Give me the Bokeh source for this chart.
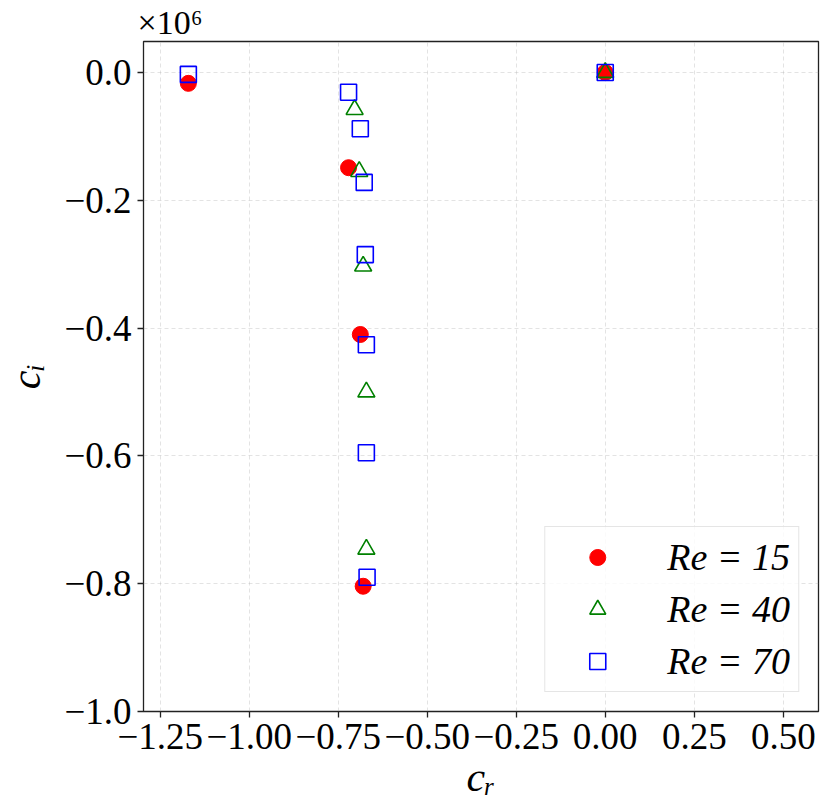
from bokeh.plotting import figure
from bokeh.models import Legend, LegendItem, Title, FixedTicker, CustomJSTickFormatter, Range1d
from bokeh.embed import file_html
from bokeh.resources import INLINE

# values in units of 1e6 for c_i
re15_cr = [-1.171, -0.721, -0.688, -0.680, 0.0]
re15_ci = [-0.017, -0.149, -0.410, -0.804, 0.0]
re40_cr = [-0.704, -0.691, -0.680, -0.671, -0.671, 0.0]
re40_ci = [-0.058, -0.155, -0.303, -0.500, -0.746, 0.0]
re70_cr = [-1.171, -0.721, -0.688, -0.677, -0.674, -0.671, -0.671, -0.669, 0.0]
re70_ci = [-0.003, -0.031, -0.088, -0.172, -0.285, -0.426, -0.595, -0.790, 0.0]
x_ticks = [-1.25, -1.0, -0.75, -0.5, -0.25, 0.0, 0.25, 0.5]
y_ticks = [-1.0, -0.8, -0.6, -0.4, -0.2, 0.0]
labels = ["Re = 15", "Re = 40", "Re = 70"]

FONT = "Liberation Serif"
FS = "37px"

p = figure(width=821, height=802, output_backend="svg", toolbar_location=None,
           x_range=Range1d(-1.297, 0.599), y_range=Range1d(-1.0, 0.0485),
           min_border_left=131, min_border_right=3, min_border_top=41, min_border_bottom=84)
p.outline_line_color = "#222222"
p.outline_line_width = 1.3
p.background_fill_color = "white"
p.border_fill_color = "white"

p.add_layout(Title(text="\u00d710\u2076", text_font=FONT, text_font_size="34px",
                   text_font_style="normal", text_color="black", align="left",
                   offset=-6, standoff=2), "above")

for ax in (p.xaxis, p.yaxis):
    ax.major_label_text_font = FONT
    ax.major_label_text_font_size = FS
    ax.major_label_text_color = "black"
    ax.axis_label_text_font = FONT
    ax.axis_label_text_font_size = "42px"
    ax.axis_label_text_font_style = "italic"
    ax.axis_label_text_color = "black"
    ax.axis_line_color = None
    ax.major_tick_line_color = "#222222"
    ax.major_tick_line_width = 1.3
    ax.major_tick_out = 6
    ax.major_tick_in = 0
    ax.minor_tick_line_color = None

p.xaxis.ticker = FixedTicker(ticks=x_ticks)
p.yaxis.ticker = FixedTicker(ticks=y_ticks)
p.xaxis.formatter = CustomJSTickFormatter(code="return tick.toFixed(2).replace('-', '\u2212');")
p.yaxis.formatter = CustomJSTickFormatter(code="return tick.toFixed(1).replace('-', '\u2212');")
p.xaxis.axis_label = "c\u1d63"
p.yaxis.axis_label = "c\u1d62"
p.xaxis.major_label_standoff = 6
p.yaxis.major_label_standoff = 6
p.xaxis.axis_label_standoff = 2
p.yaxis.axis_label_standoff = 12

for g in (p.xgrid, p.ygrid):
    g.grid_line_color = "#b0b0b0"
    g.grid_line_alpha = 0.35
    g.grid_line_dash = "4 3"
    g.grid_line_width = 1

r1 = p.scatter(re15_cr, re15_ci, marker="circle", size=16, fill_color="#ff0000", line_color="#ff0000")
r2 = p.scatter(re40_cr, re40_ci, marker="triangle", size=17, fill_color=None, line_color="#008000", line_width=1.6)
r3 = p.scatter(re70_cr, re70_ci, marker="square", size=16, fill_color=None, line_color="#0000ff", line_width=1.6)

legend = Legend(items=[LegendItem(label=labels[0], renderers=[r1]),
                       LegendItem(label=labels[1], renderers=[r2]),
                       LegendItem(label=labels[2], renderers=[r3])],
                location="bottom_right", margin=19, padding=8, spacing=8,
                glyph_width=88, glyph_height=40, label_height=40, label_standoff=26,
                label_text_font=FONT, label_text_font_size="38px", label_text_font_style="italic",
                label_text_color="black",
                border_line_color="#cccccc", border_line_width=1.2, background_fill_alpha=0.8)
p.add_layout(legend, "center")

open("out.html", "w").write(file_html(p, INLINE))
